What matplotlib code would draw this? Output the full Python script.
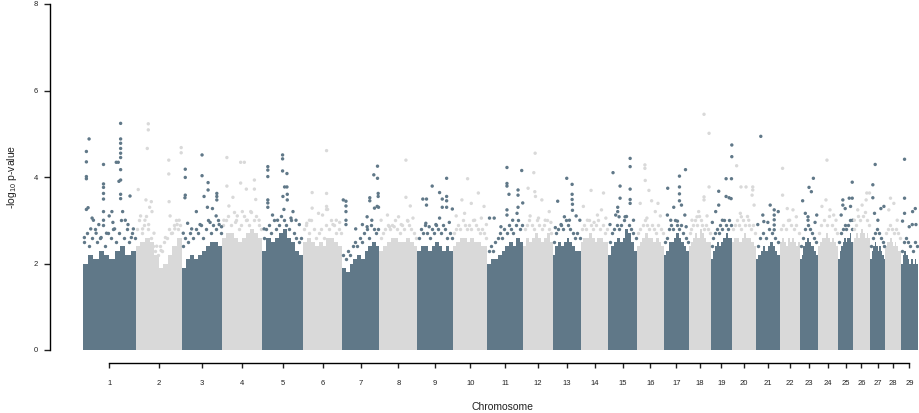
import numpy as np
import matplotlib
matplotlib.use("Agg")
import matplotlib.pyplot as plt

# cores das colunas alternadas
COR_ESCURA = '#607888'
COR_CLARA = '#d9d9d9'

plt.rcParams['font.family'] = ['Liberation Sans', 'DejaVu Sans']
plt.rcParams['mathtext.fontset'] = 'custom'
plt.rcParams['mathtext.rm'] = 'Liberation Sans'
plt.rcParams['mathtext.it'] = 'Liberation Sans'

#####################################################################
# DADOS
CHROM = list(range(1, 30))
CHROM_LEN = [158.5, 136.2, 121.0, 120.0, 120.1, 117.8, 110.7, 113.3, 105.5, 103.3,
             107.0, 87.2, 83.5, 82.4, 85.0, 81.0, 73.2, 65.8, 63.4, 72.0,
             69.9, 60.8, 52.5, 62.3, 42.4, 52.0, 45.6, 45.9, 51.1]

# altura da massa densa de SNPs, 10 trechos por cromossomo
BLOCK_TOP = [
    [2.0, 2.2, 2.1, 2.3, 2.2, 2.1, 2.3, 2.4, 2.2, 2.3],
    [2.4, 2.5, 2.6, 2.5, 2.2, 1.9, 2.0, 2.2, 2.4, 2.6],
    [1.9, 2.1, 2.2, 2.1, 2.2, 2.3, 2.4, 2.5, 2.5, 2.4],
    [2.6, 2.7, 2.7, 2.6, 2.5, 2.6, 2.7, 2.8, 2.7, 2.6],
    [2.3, 2.6, 2.5, 2.6, 2.7, 2.8, 2.6, 2.5, 2.3, 2.2],
    [2.5, 2.6, 2.5, 2.4, 2.5, 2.4, 2.6, 2.6, 2.5, 2.4],
    [1.9, 1.8, 2.0, 2.1, 2.2, 2.1, 2.3, 2.4, 2.5, 2.4],
    [2.3, 2.4, 2.5, 2.6, 2.6, 2.5, 2.5, 2.6, 2.5, 2.4],
    [2.3, 2.4, 2.4, 2.3, 2.4, 2.5, 2.4, 2.3, 2.4, 2.3],
    [2.4, 2.5, 2.6, 2.6, 2.5, 2.6, 2.5, 2.5, 2.4, 2.4],
    [2.0, 2.1, 2.1, 2.2, 2.3, 2.4, 2.5, 2.4, 2.6, 2.5],
    [2.4, 2.6, 2.5, 2.6, 2.7, 2.6, 2.5, 2.6, 2.7, 2.5],
    [2.2, 2.4, 2.5, 2.4, 2.5, 2.6, 2.5, 2.4, 2.3, 2.3],
    [2.5, 2.6, 2.6, 2.7, 2.6, 2.5, 2.6, 2.6, 2.5, 2.5],
    [2.2, 2.4, 2.5, 2.6, 2.5, 2.6, 2.8, 2.7, 2.5, 2.3],
    [2.4, 2.5, 2.6, 2.7, 2.6, 2.6, 2.5, 2.6, 2.5, 2.4],
    [2.2, 2.3, 2.5, 2.5, 2.6, 2.7, 2.6, 2.5, 2.4, 2.3],
    [2.4, 2.5, 2.6, 2.7, 2.6, 2.8, 2.7, 2.6, 2.5, 2.5],
    [2.1, 2.3, 2.4, 2.5, 2.4, 2.5, 2.6, 2.7, 2.6, 2.6],
    [2.5, 2.6, 2.6, 2.5, 2.6, 2.7, 2.6, 2.6, 2.5, 2.4],
    [2.1, 2.2, 2.3, 2.4, 2.3, 2.4, 2.5, 2.4, 2.3, 2.2],
    [2.5, 2.6, 2.5, 2.4, 2.6, 2.5, 2.6, 2.5, 2.4, 2.5],
    [2.1, 2.2, 2.4, 2.5, 2.6, 2.5, 2.4, 2.4, 2.3, 2.2],
    [2.4, 2.5, 2.6, 2.6, 2.7, 2.6, 2.5, 2.6, 2.5, 2.4],
    [2.1, 2.3, 2.4, 2.5, 2.6, 2.5, 2.6, 2.6, 2.7, 2.5],
    [2.5, 2.6, 2.7, 2.6, 2.7, 2.8, 2.7, 2.6, 2.7, 2.6],
    [2.1, 2.3, 2.4, 2.5, 2.4, 2.3, 2.4, 2.3, 2.2, 2.1],
    [2.4, 2.5, 2.5, 2.6, 2.5, 2.4, 2.5, 2.4, 2.3, 2.3],
    [2.0, 2.2, 2.3, 2.2, 2.1, 2.0, 2.1, 2.0, 2.1, 2.0],
]

# borda irregular logo acima da massa densa (SNPs ao longo do cromossomo)
FRINGE = [
    [2.5, 2.7, 2.4, 2.6, 2.8, 2.5, 2.6, 2.9, 2.4, 2.7, 2.6, 2.8, 2.5, 2.7, 3.0, 2.6, 2.8, 2.5, 2.7, 2.6],
    [2.8, 3.0, 2.7, 2.9, 3.1, 2.8, 2.6, 2.4, 2.3, 2.2, 2.4, 2.3, 2.5, 2.6, 2.8, 2.7, 2.9, 3.0, 2.8, 2.9],
    [2.4, 2.6, 2.5, 2.7, 2.6, 2.8, 2.7, 2.9, 2.6, 2.8, 3.0, 2.7, 2.9, 2.8, 3.0, 2.7],
    [2.9, 3.0, 3.1, 2.9, 3.2, 3.0, 2.8, 2.9, 3.1, 3.0, 2.9, 3.2, 3.0, 3.1, 2.9, 2.8],
    [2.6, 2.8, 2.9, 2.7, 3.0, 2.8, 2.9, 3.1, 3.0, 2.9, 2.8, 3.0, 2.7, 2.6, 2.5, 2.6],
    [2.8, 2.9, 2.7, 3.0, 2.8, 2.6, 2.7, 2.8, 2.6, 2.9, 2.8, 3.0, 2.9, 2.7, 2.8, 2.7],
    [2.2, 2.1, 2.3, 2.2, 2.4, 2.5, 2.4, 2.6, 2.5, 2.7, 2.8, 2.6, 2.9, 2.8, 2.7, 2.8],
    [2.6, 2.7, 2.8, 2.9, 2.8, 2.9, 3.0, 2.8, 2.7, 2.9, 2.8, 3.0, 2.9, 2.8, 2.7, 2.6],
    [2.6, 2.8, 2.7, 2.9, 2.7, 2.6, 2.8, 2.7, 2.9, 2.8, 2.7, 2.9, 2.8, 2.6, 2.7, 2.6],
    [2.7, 2.8, 2.9, 2.8, 3.0, 2.9, 2.8, 2.9, 2.8, 3.0, 2.9, 2.8, 2.7, 2.8, 2.7, 2.6],
    [2.3, 2.4, 2.3, 2.5, 2.6, 2.7, 2.6, 2.8, 2.7, 2.9, 2.8, 2.7, 2.9, 3.0, 2.8, 2.9],
    [2.8, 2.9, 3.0, 2.9, 2.8, 3.0, 2.9, 2.8, 2.9, 3.0, 2.8, 2.7],
    [2.5, 2.7, 2.8, 2.9, 2.8, 3.0, 2.9, 2.8, 2.7, 2.6, 2.7, 2.6],
    [2.8, 2.9, 2.8, 3.0, 2.9, 2.8, 2.9, 3.0, 2.8, 2.9, 2.7, 2.8],
    [2.5, 2.7, 2.8, 2.9, 2.8, 2.9, 3.0, 3.1, 2.9, 2.8, 2.7, 2.6],
    [2.7, 2.8, 2.9, 3.0, 2.9, 2.8, 2.9, 2.8, 2.7, 2.9, 2.8, 2.7],
    [2.5, 2.6, 2.8, 2.9, 2.8, 3.0, 2.9, 2.8, 2.9, 2.7, 2.6, 2.5],
    [2.7, 2.8, 2.9, 3.0, 2.9, 3.1, 3.0, 2.9, 2.8, 2.9, 2.8, 2.7],
    [2.4, 2.6, 2.7, 2.8, 2.7, 2.9, 2.8, 3.0, 2.9, 2.8, 3.0, 2.9],
    [2.8, 2.9, 3.0, 2.9, 2.8, 3.0, 2.9, 3.1, 2.9, 2.8, 2.9, 2.7],
    [2.4, 2.6, 2.7, 2.6, 2.8, 2.7, 2.6, 2.5],
    [2.8, 2.9, 2.8, 3.0, 2.9, 2.8, 2.9, 2.7],
    [2.4, 2.6, 2.8, 2.9, 2.8, 2.7, 2.6, 2.5],
    [2.7, 2.9, 3.0, 2.9, 3.1, 2.9, 2.8, 2.7],
    [2.5, 2.7, 2.8, 2.9, 2.8, 2.9, 3.0, 2.8],
    [2.8, 2.9, 3.1, 3.0, 3.1, 3.2, 3.0, 2.9],
    [2.4, 2.6, 2.7, 2.8, 2.7, 2.6, 2.5, 2.4],
    [2.7, 2.8, 2.9, 2.8, 2.7, 2.8, 2.7, 2.6],
    [2.3, 2.5, 2.6, 2.5, 2.4, 2.3, 2.5, 2.4],
]

# SNPs isolados acima da massa densa: cromossomo, posição (Mb), -log10 p
SNP_CHR = []
SNP_POS = []
SNP_LOGP = []

def add_snps(chrom, pos, logp):
    SNP_CHR.extend([chrom] * len(pos))
    SNP_POS.extend(pos)
    SNP_LOGP.extend(logp)

add_snps(1, [11, 11, 11, 11, 19, 16, 11, 62, 62, 62, 62, 62, 62, 62, 100, 106, 113, 113, 113, 113,
             113, 113, 113, 113, 108, 113, 113, 141, 87, 32, 48, 79, 127, 135, 151, 24, 40, 71, 95, 119,
             5, 55, 145, 28, 90],
         [4.59, 4.35, 4.01, 3.96, 4.88, 3.29, 3.25, 4.29, 3.84, 3.76, 3.62, 3.49, 3.20, 3.00, 4.34, 4.34,
          5.24, 4.88, 4.78, 4.66, 4.55, 4.45, 4.17, 3.93, 3.90, 3.60, 3.50, 3.56, 3.20, 3.00, 2.90, 3.10,
          3.00, 2.90, 2.80, 2.80, 2.70, 2.70, 2.80, 3.20, 2.60, 2.60, 2.60, 3.05, 2.95])
add_snps(2, [37, 37, 34, 98, 98, 135, 135, 7, 99, 46, 30, 41, 48, 14, 27, 38, 20, 54, 102, 116,
             123, 129, 88, 109, 62, 75],
         [5.23, 5.09, 4.66, 4.39, 4.07, 4.68, 4.56, 3.71, 3.43, 3.43, 3.47, 3.30, 3.20, 3.10, 3.00, 2.90,
          2.80, 2.70, 3.10, 2.80, 2.90, 3.00, 2.60, 2.70, 2.40, 2.30])
add_snps(3, [11, 11, 61, 61, 79, 79, 105, 105, 105, 11, 10, 44, 67, 77, 92, 103, 18, 119, 30, 55,
             85, 112, 5],
         [4.18, 3.99, 4.51, 4.03, 3.87, 3.70, 3.62, 3.55, 3.47, 3.58, 3.52, 3.20, 3.55, 3.30, 3.27, 3.10,
          2.93, 2.85, 2.80, 2.90, 2.95, 2.90, 2.70])
add_snps(4, [14, 55, 66, 14, 55, 96, 96, 72, 32, 20, 100, 45, 85, 110, 5, 60, 75, 40],
         [4.45, 4.34, 4.34, 3.79, 3.86, 3.93, 3.72, 3.72, 3.53, 3.33, 3.48, 3.10, 3.20, 3.00, 3.00, 3.20,
          3.00, 2.95])
add_snps(5, [60, 60, 16, 16, 16, 60, 73, 66, 73, 61, 74, 74, 16, 16, 16, 91, 30, 100, 64, 45,
             110, 5, 85],
         [4.51, 4.42, 4.24, 4.16, 4.01, 4.14, 4.08, 3.77, 3.77, 3.55, 3.60, 3.47, 3.47, 3.40, 3.30, 3.20,
          3.12, 3.00, 3.25, 3.00, 2.90, 2.80, 3.05])
add_snps(6, [71, 71, 28, 28, 71, 71, 74, 47, 59, 12, 100, 110, 90, 20],
         [4.61, 3.62, 3.64, 3.28, 3.32, 3.25, 3.25, 3.16, 3.12, 2.93, 3.00, 2.95, 2.90, 3.00])
add_snps(7, [105, 94, 105, 82, 82, 107, 107, 3, 11, 11, 11, 11, 11, 74, 96, 104, 108, 74, 60, 40, 88],
         [4.25, 4.05, 3.97, 3.52, 3.45, 3.62, 3.55, 3.47, 3.44, 3.33, 3.20, 3.00, 2.90, 3.08, 3.28, 3.32,
          3.30, 2.85, 2.90, 2.80, 3.00])
add_snps(8, [79, 79, 24, 44, 92, 100, 85, 57, 5, 65, 30],
         [4.39, 3.53, 3.12, 2.85, 3.33, 3.05, 2.98, 3.08, 3.00, 2.90, 2.85])
add_snps(9, [44, 87, 16, 27, 27, 66, 74, 87, 87, 74, 87, 104, 25, 66, 35, 55, 95],
         [3.79, 3.97, 3.49, 3.49, 3.35, 3.64, 3.49, 3.55, 3.45, 3.30, 3.30, 3.26, 2.93, 3.05, 2.85, 2.90,
          2.95])
add_snps(10, [44, 76, 27, 55, 93, 35, 10, 65, 85, 100],
         [3.96, 3.63, 3.47, 3.39, 3.32, 3.16, 3.10, 3.00, 3.05, 2.90])
add_snps(11, [58, 58, 58, 6, 20, 58, 58, 102, 91, 91, 91, 105, 88, 64, 40, 75],
         [4.22, 3.85, 3.79, 3.05, 3.05, 3.24, 3.12, 4.15, 3.70, 3.58, 3.30, 3.40, 3.16, 3.60, 2.85, 3.00])
add_snps(12, [35, 31, 34, 36, 14, 77, 55, 65, 20, 45, 82],
         [4.55, 4.10, 3.66, 3.55, 3.74, 3.20, 3.47, 3.00, 3.10, 3.05, 2.95])
add_snps(13, [42, 58, 58, 58, 59, 59, 15, 35, 8, 81, 70, 50, 25],
         [3.97, 3.83, 3.60, 3.48, 3.37, 3.23, 3.44, 3.08, 2.83, 3.00, 3.10, 3.00, 2.90])
add_snps(14, [31, 68, 8, 62, 50, 75, 20, 40],
         [3.69, 3.63, 3.32, 3.24, 3.12, 3.05, 3.00, 2.95])
add_snps(15, [65, 65, 14, 35, 35, 65, 65, 65, 28, 28, 22, 32, 50, 75, 5],
         [4.43, 4.24, 4.10, 3.79, 3.51, 3.72, 3.48, 3.39, 3.30, 3.20, 3.12, 3.08, 3.08, 3.00, 2.90])
add_snps(16, [24, 24, 25, 36, 44, 63, 10, 55, 70, 30],
         [4.28, 4.20, 3.92, 3.69, 3.45, 3.39, 3.39, 3.20, 3.10, 3.05])
add_snps(17, [64, 46, 46, 11, 46, 46, 29, 52, 62, 66, 40, 10, 20],
         [4.17, 4.02, 3.77, 3.74, 3.61, 3.45, 3.30, 3.35, 3.12, 2.85, 2.98, 3.12, 3.00])
add_snps(18, [46, 61, 46, 46, 61, 30, 25, 10, 55],
         [5.45, 5.01, 3.54, 3.47, 3.77, 3.20, 3.08, 3.00, 3.10])
add_snps(19, [63, 63, 46, 62, 24, 46, 55, 61, 24, 15, 5, 35],
         [4.74, 4.47, 3.96, 3.96, 3.67, 3.55, 3.52, 3.50, 3.35, 3.20, 2.95, 3.00])
add_snps(20, [14, 27, 42, 62, 62, 60, 25, 28, 66, 50],
         [4.26, 3.77, 3.77, 3.77, 3.70, 3.58, 3.16, 3.08, 3.35, 3.00])
add_snps(21, [14, 42, 54, 54, 54, 54, 54, 66, 20, 23, 5, 35],
         [4.94, 3.35, 3.24, 3.12, 3.01, 2.89, 2.78, 3.20, 3.12, 2.97, 2.90, 2.95])
add_snps(22, [9, 9, 23, 40, 50, 30],
         [4.20, 3.58, 3.27, 3.24, 3.08, 3.00])
add_snps(23, [40, 27, 34, 8, 24, 24, 16, 50, 45],
         [3.97, 3.76, 3.66, 3.45, 3.08, 3.00, 3.16, 3.12, 2.95])
add_snps(24, [28, 25, 13, 37, 48, 55],
         [4.39, 3.47, 3.32, 3.24, 3.12, 3.00])
add_snps(25, [41, 32, 41, 13, 13, 20, 8, 36, 42],
         [3.88, 3.51, 3.51, 3.47, 3.35, 3.27, 3.12, 3.32, 3.00])
add_snps(26, [42, 50, 40, 15, 28, 5],
         [3.63, 3.63, 3.47, 3.24, 3.35, 3.00])
add_snps(27, [15, 8, 8, 32, 41, 13, 23],
         [4.29, 3.82, 3.52, 3.27, 3.32, 3.16, 3.00])
add_snps(28, [15, 25, 10, 35],
         [3.51, 3.39, 3.24, 3.00])
add_snps(29, [11, 11, 11, 35, 43, 34, 45, 5, 25],
         [4.41, 3.51, 3.16, 3.20, 3.27, 2.90, 2.90, 2.98, 2.85])

Y_TICKS = [0, 2, 4, 6, 8]

#####################################################################
def main():
    largura, altura = 920, 413
    fig = plt.figure(figsize=(largura / 100, altura / 100), dpi=100)

    # início de cada cromossomo no eixo acumulado
    comp = np.array(CHROM_LEN)
    inicio = np.concatenate([[0], np.cumsum(comp)[:-1]])
    total = comp.sum()
    meio = inicio + comp / 2

    # posição dos eixos em pixels
    px_esq, px_dir = 50, 920
    px_ini, px_fim = 82.7, 918
    esc = (px_fim - px_ini) / total
    ax = fig.add_axes([px_esq / largura, 63 / altura,
                       (px_dir - px_esq) / largura, 346 / altura])
    ax.set_xlim(-(px_ini - px_esq) / esc, total + (px_dir - px_fim) / esc)
    ax.set_ylim(0, 8)

    for i, c in enumerate(CHROM):
        cor = COR_ESCURA if i % 2 == 0 else COR_CLARA
        # massa densa
        tops = BLOCK_TOP[i]
        n = len(tops)
        w = comp[i] / n
        lefts = inicio[i] + w * np.arange(n)
        ax.bar(lefts, tops, width=w, align='edge', color=cor, linewidth=0)
        # borda irregular
        borda = FRINGE[i]
        m = len(borda)
        xb = inicio[i] + comp[i] * (np.arange(m) + 0.5) / m
        ax.scatter(xb, borda, s=6, color=cor, linewidths=0, zorder=2)

    # SNPs isolados
    snp_chr = np.array(SNP_CHR)
    snp_x = inicio[snp_chr - 1] + np.array(SNP_POS)
    cores = [COR_ESCURA if c % 2 == 1 else COR_CLARA for c in snp_chr]
    ax.scatter(snp_x, SNP_LOGP, s=6, c=cores, linewidths=0, clip_on=False, zorder=3)

    # eixos estilo R
    for lado in ['top', 'right']:
        ax.spines[lado].set_visible(False)
    ax.spines['left'].set_linewidth(1.0)
    ax.spines['bottom'].set_linewidth(1.0)
    ax.spines['bottom'].set_position(('outward', 9.4))
    ax.spines['bottom'].set_bounds(meio[0], meio[-1])

    ax.set_xticks(meio)
    ax.set_xticklabels([str(c) for c in CHROM])
    ax.set_yticks(Y_TICKS)
    ax.set_yticklabels([str(v) for v in Y_TICKS])
    ax.tick_params(axis='x', length=3.6, width=1.0, pad=8.5, labelsize=5.5, colors='#222222')
    ax.tick_params(axis='y', length=4.3, width=1.0, pad=4.5, labelsize=5.5, colors='#222222')

    fig.text(12 / largura, 1 - 177 / altura, '-log$_{10}$ p-value', rotation=90,
             ha='center', va='center', fontsize=7.5, color='#222222')
    fig.text(503 / largura, 1 - 407 / altura, 'Chromosome',
             ha='center', va='center', fontsize=7.5, color='#222222')

    fig.savefig('out.png', dpi=100)

if __name__ == '__main__':
    main()
